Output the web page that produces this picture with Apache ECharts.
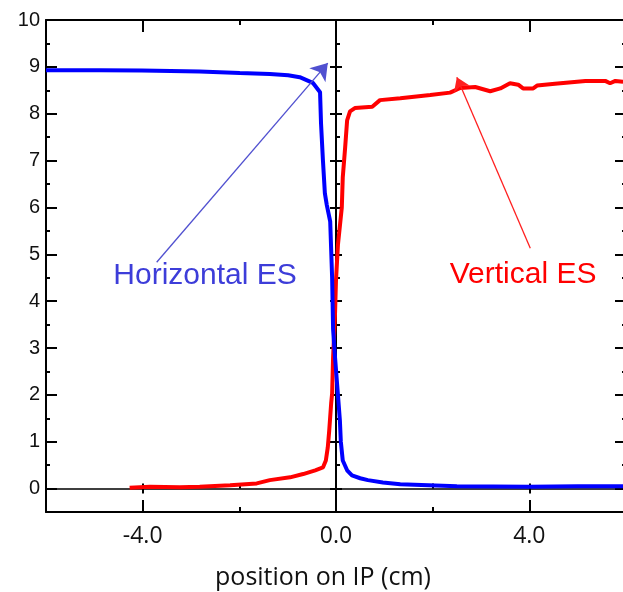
<!DOCTYPE html>
<html>
<head>
<meta charset="utf-8">
<script src="https://cdn.jsdelivr.net/npm/echarts@6/dist/echarts.min.js"></script>
<style>html,body{margin:0;padding:0;background:#fff;}#c{width:623px;height:592px;}</style>
</head>
<body>
<div id="c"></div>
<script>
// ---- axis ranges and ticks ----
const xMin = -6, xMax = 6;
const yMin = -0.5, yMax = 10;
const xMajorTicks = [-4, 0, 4];
const xMinorTicks = [-2, 2];
const yMajorTicks = [0, 1, 2, 3, 4, 5, 6, 7, 8, 9, 10];
const yMinorTicks = [0.5, 1.5, 2.5, 3.5, 4.5, 5.5, 6.5, 7.5, 8.5, 9.5];
const xAxisTitle = 'position on IP (cm)';

// ---- Horizontal ES (blue) ----
const horizX = [-6.0, -4.89, -4.02, -2.82, -1.99, -1.37, -0.99, -0.75, -0.48, -0.33, -0.31, -0.27, -0.23, -0.19, -0.12, -0.08, -0.06, -0.02, 0.04, 0.08, 0.10, 0.14, 0.23, 0.33, 0.50, 0.66, 0.97, 1.33, 2.5, 4.0, 5.0, 6.0];
const horizY = [8.93, 8.93, 8.92, 8.90, 8.87, 8.85, 8.82, 8.78, 8.66, 8.46, 7.8, 7.0, 6.3, 6.05, 5.7, 4.5, 3.4, 2.8, 2.0, 1.46, 1.0, 0.6, 0.39, 0.28, 0.22, 0.18, 0.13, 0.09, 0.05, 0.04, 0.05, 0.05];

// ---- Vertical ES (red) ----
const vertX = [-4.27, -3.85, -3.23, -2.82, -2.19, -1.64, -1.37, -0.95, -0.68, -0.43, -0.27, -0.21, -0.17, -0.14, -0.10, -0.08, -0.06, -0.02, 0.0, 0.04, 0.12, 0.14, 0.19, 0.23, 0.29, 0.39, 0.75, 0.91, 1.33, 1.95, 2.36, 2.57, 2.88, 3.19, 3.40, 3.60, 3.77, 3.87, 4.08, 4.16, 4.53, 5.16, 5.57, 5.67, 5.78, 5.94];
const vertY = [0.02, 0.04, 0.03, 0.04, 0.07, 0.11, 0.18, 0.24, 0.31, 0.39, 0.45, 0.6, 0.88, 1.24, 1.82, 2.03, 2.8, 3.74, 4.45, 5.2, 6.0, 6.64, 7.29, 7.86, 8.05, 8.12, 8.15, 8.29, 8.33, 8.40, 8.45, 8.55, 8.57, 8.48, 8.54, 8.65, 8.62, 8.54, 8.54, 8.60, 8.64, 8.70, 8.70, 8.65, 8.70, 8.68];

// ---- annotations ----
const annoLabels = ['Horizontal ES', 'Vertical ES'];
const annoTextX = [-2.71, 3.87];
const annoTextY = [4.55, 4.57];
const arrowFromX = [-3.71, 4.02];
const arrowFromY = [4.83, 5.13];
const arrowToX = [-0.17, 2.5];
const arrowToY = [9.08, 8.78];

const zip = (xs, ys) => xs.map((x, i) => [x, ys[i]]);
const fmt1 = v => v.toFixed(1);

function xAx(o) {
  return Object.assign({
    type: 'value', min: xMin, max: xMax, splitLine: {show: false},
    axisLabel: {show: false}, axisTick: {show: false},
    axisLine: {onZero: false, lineStyle: {color: '#000', width: 2}}
  }, o);
}
function yAx(o) {
  return Object.assign({
    type: 'value', min: yMin, max: yMax, splitLine: {show: false},
    axisLabel: {show: false}, axisTick: {show: false},
    axisLine: {onZero: false, lineStyle: {color: '#000', width: 2}}
  }, o);
}
const tk = (vals, len, inside) => ({show: true, inside: inside, length: len, customValues: vals, lineStyle: {color: '#000', width: 2}});

const chart = echarts.init(document.getElementById('c'), null, {renderer: 'canvas'});
const option = {
  animation: false,
  backgroundColor: '#fff',
  grid: {left: 46, top: 20, right: -3, bottom: 80, containLabel: false, outerBoundsMode: 'none'},
  xAxis: [
    xAx({position: 'bottom', axisTick: tk(xMajorTicks, 12, true),
      axisLabel: {show: true, customValues: xMajorTicks, formatter: fmt1, margin: 13, color: '#111', fontSize: 23, fontFamily: 'Open Sans'},
      name: xAxisTitle, nameLocation: 'middle', nameGap: 53,
      nameTextStyle: {fontSize: 25, fontFamily: 'Open Sans', color: '#111', padding: [0, 26, 0, 0]}}),
    xAx({position: 'bottom', axisLine: {show: false, onZero: false}, axisTick: tk(xMinorTicks, 5, true)}),
    xAx({position: 'top', axisTick: tk(xMajorTicks, 12, true)}),
    xAx({position: 'top', axisLine: {show: false, onZero: false}, axisTick: tk(xMinorTicks, 5, true)}),
    xAx({position: 'bottom', axisLine: {onZero: true, onZeroAxisIndex: 0, lineStyle: {color: '#000', width: 1.5}}, axisTick: tk([-4, 4], 5, false)}),
    xAx({position: 'bottom', axisLine: {show: false, onZero: true, onZeroAxisIndex: 0}, axisTick: tk([-4, 4, -2, 2], 5, true)})
  ],
  yAxis: [
    yAx({position: 'left', axisTick: tk(yMajorTicks, 11, true),
      axisLabel: {show: true, customValues: yMajorTicks, margin: 6, color: '#111', fontSize: 20, fontFamily: 'Liberation Sans'}}),
    yAx({position: 'left', axisLine: {show: false, onZero: false}, axisTick: tk(yMinorTicks, 4, true)}),
    yAx({position: 'right', axisTick: tk(yMajorTicks, 11, true)}),
    yAx({position: 'right', axisLine: {show: false, onZero: false}, axisTick: tk(yMinorTicks, 4, true)}),
    yAx({position: 'left', axisLine: {onZero: true, onZeroAxisIndex: 0, lineStyle: {color: '#000', width: 2}}, axisTick: tk(yMajorTicks, 6, false)}),
    yAx({position: 'left', axisLine: {show: false, onZero: true, onZeroAxisIndex: 0}, axisTick: tk(yMajorTicks, 6, true)}),
    yAx({position: 'left', axisLine: {show: false, onZero: true, onZeroAxisIndex: 0}, axisTick: tk(yMinorTicks, 4, true)})
  ],
  series: [
    {
      name: 'Vertical ES', type: 'line', xAxisIndex: 0, yAxisIndex: 0,
      data: zip(vertX, vertY), showSymbol: false, symbol: 'none',
      lineStyle: {color: '#ff0000', width: 4}, z: 3,
      markLine: {
        silent: true, symbol: ['none', 'arrow'], symbolSize: 13,
        label: {show: false}, lineStyle: {color: '#ff2020', width: 1.3, type: 'solid'},
        emphasis: {disabled: true},
        data: [[{coord: [arrowFromX[1], arrowFromY[1]]}, {coord: [arrowToX[1], arrowToY[1]]}]]
      },
      markPoint: {
        silent: true, symbol: 'circle', symbolSize: 0,
        label: {show: true, position: 'inside', formatter: annoLabels[1], color: '#ff0000', fontSize: 30, fontFamily: 'Liberation Sans'},
        data: [{coord: [annoTextX[1], annoTextY[1]]}]
      }
    },
    {
      name: 'Horizontal ES', type: 'line', xAxisIndex: 0, yAxisIndex: 0,
      data: zip(horizX, horizY), showSymbol: false, symbol: 'none',
      lineStyle: {color: '#0000ff', width: 4}, z: 4,
      markLine: {
        silent: true, symbol: ['none', 'arrow'], symbolSize: 16,
        label: {show: false}, lineStyle: {color: '#5050d0', width: 1.3, type: 'solid'},
        emphasis: {disabled: true},
        data: [[{coord: [arrowFromX[0], arrowFromY[0]]}, {coord: [arrowToX[0], arrowToY[0]]}]]
      },
      markPoint: {
        silent: true, symbol: 'circle', symbolSize: 0,
        label: {show: true, position: 'inside', formatter: annoLabels[0], color: '#3d3dd9', fontSize: 30, fontFamily: 'Liberation Sans'},
        data: [{coord: [annoTextX[0], annoTextY[0]]}]
      }
    }
  ]
};
chart.setOption(option);
</script>
</body>
</html>
